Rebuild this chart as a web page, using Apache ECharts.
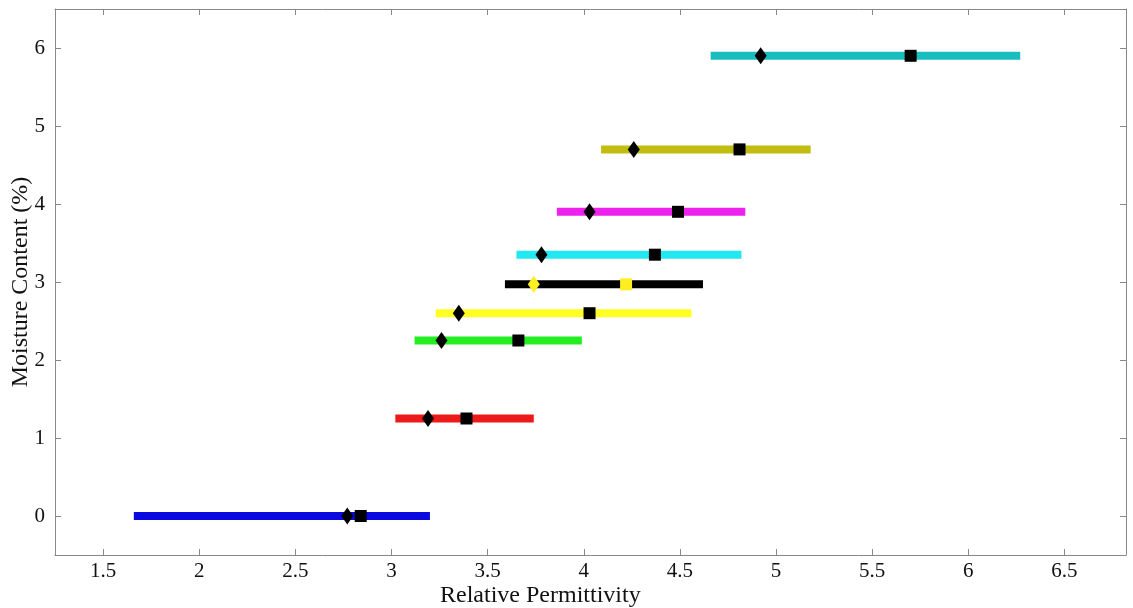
<!DOCTYPE html>
<html>
<head>
<meta charset="utf-8">
<script src="https://cdn.jsdelivr.net/npm/echarts@6/dist/echarts.min.js"></script>
<style>html,body{margin:0;padding:0;background:#fff}#c{width:1133px;height:608px}</style>
</head>
<body>
<div id="c"></div>
<script>
// Data
const moisture   = [0, 1.25, 2.25, 2.6, 2.97, 3.35, 3.9, 4.7, 5.9];
const rangeMin   = [1.66, 3.02, 3.12, 3.23, 3.59, 3.65, 3.86, 4.09, 4.66];
const rangeMax   = [3.20, 3.74, 3.99, 4.56, 4.62, 4.82, 4.84, 5.18, 6.27];
const diamondX   = [2.77, 3.19, 3.26, 3.35, 3.74, 3.78, 4.03, 4.26, 4.92];
const squareX    = [2.84, 3.39, 3.66, 4.03, 4.22, 4.37, 4.49, 4.81, 5.70];
const barColors  = ['#0a0ae0', '#ee1a1a', '#22ee22', '#ffff22', '#000000', '#22e8f2', '#ee22ee', '#c0bc10', '#18bebe'];
const markColors = ['#000', '#000', '#000', '#000', '#ffee22', '#000', '#000', '#000', '#000'];
const xTicks = [1.5, 2, 2.5, 3, 3.5, 4, 4.5, 5, 5.5, 6, 6.5];
const yTicks = [0, 1, 2, 3, 4, 5, 6];

const font = 'Liberation Serif';
const series = [];
moisture.forEach((y, i) => {
  series.push({
    type: 'line', symbol: 'none', silent: true, z: 2,
    data: [[rangeMin[i], y], [rangeMax[i], y]],
    lineStyle: { color: barColors[i], width: 8, cap: 'butt' }
  });
});
series.push({
  type: 'scatter', symbol: 'diamond', symbolSize: [12, 17], z: 3,
  data: moisture.map((y, i) => ({ value: [diamondX[i], y], itemStyle: { color: markColors[i], opacity: 1 } }))
});
series.push({
  type: 'scatter', symbol: 'rect', symbolSize: [12, 12], z: 3,
  data: moisture.map((y, i) => ({ value: [squareX[i], y], itemStyle: { color: markColors[i], opacity: 1 } }))
});

const axisLine = { show: true, onZero: false, lineStyle: { color: '#888', width: 1 } };
const chart = echarts.init(document.getElementById('c'));
chart.setOption({
  animation: false,
  backgroundColor: '#fff',
  grid: { left: 55, right: 7, top: 9, bottom: 53, show: false, containLabel: false, outerBoundsMode: 'none' },
  xAxis: [{
    type: 'value', min: 1.25, max: 6.82, position: 'bottom',
    axisLine: axisLine,
    axisTick: { show: true, inside: true, length: 6, lineStyle: { color: '#888' }, customValues: xTicks },
    axisLabel: { show: true, customValues: xTicks, color: '#111', fontFamily: font, fontSize: 21, margin: 6 },
    splitLine: { show: false }
  }, {
    type: 'value', min: 1.25, max: 6.82, position: 'top',
    axisLine: axisLine,
    axisTick: { show: true, inside: true, length: 6, lineStyle: { color: '#888' }, customValues: xTicks },
    axisLabel: { show: false },
    splitLine: { show: false }
  }],
  yAxis: [{
    type: 'value', min: -0.5, max: 6.5, position: 'left',
    name: 'Moisture Content (%)', nameLocation: 'middle', nameGap: 22, nameMoveOverlap: false,
    nameTextStyle: { color: '#111', fontFamily: font, fontSize: 24 },
    axisLine: axisLine,
    axisTick: { show: true, inside: true, length: 6, lineStyle: { color: '#888' }, customValues: yTicks },
    axisLabel: { show: true, customValues: yTicks, color: '#111', fontFamily: font, fontSize: 21, margin: 10 },
    splitLine: { show: false }
  }, {
    type: 'value', min: -0.5, max: 6.5, position: 'right',
    axisLine: axisLine,
    axisTick: { show: true, inside: true, length: 6, lineStyle: { color: '#888' }, customValues: yTicks },
    axisLabel: { show: false },
    splitLine: { show: false }
  }],
  graphic: [{
    type: 'text', left: 440, top: 584,
    style: { text: 'Relative Permittivity', fill: '#111', font: '24px "Liberation Serif"' }
  }],
  series: series
});
</script>
</body>
</html>
